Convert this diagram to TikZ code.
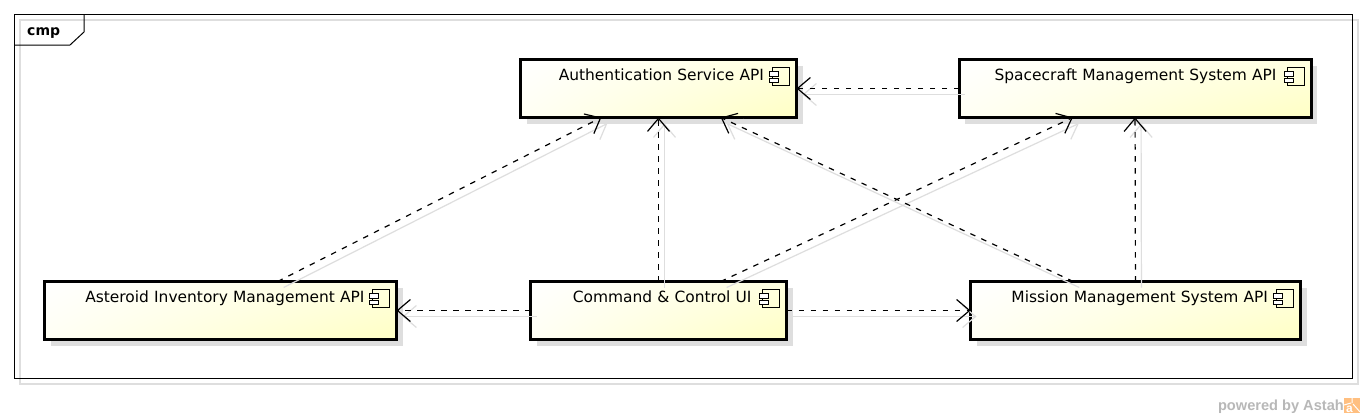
\documentclass[tikz,border=0pt]{standalone}
\usepackage{fontspec}
\setmainfont{DejaVu Sans}
\newfontfamily\poweredfont{Liberation Sans}
\usetikzlibrary{arrows.meta,shadows,shadings}
\definecolor{shadowgray}{HTML}{DEDEDE}
\definecolor{compyellow}{HTML}{FFFFC4}
\definecolor{compmidur}{HTML}{FFFFE0}
\definecolor{compmidll}{HTML}{FFFFF4}
\tikzset{
  compbox/.style 2 args={draw=black,line width=3pt,rectangle,inner ysep=0pt,inner xsep=#2,outer sep=0pt,
    text width=#1-2*#2,align=right,text height=21pt,text depth=37pt,font=\fontsize{15.45}{18}\selectfont,
    shading=bilinear interpolation,upper left=white,upper right=compmidur,lower left=compmidll,lower right=compyellow,
    drop shadow={shadow xshift=6pt,shadow yshift=-6pt,fill=shadowgray,opacity=1}},
  dep/.style={dashed,dash pattern=on 5.5pt off 6.5pt,line width=1.2pt,
    -{Straight Barb[length=13pt,width=22pt,line width=1.2pt]}},
  depshadow/.style={shadowgray,line width=1.2pt,transform canvas={xshift=6pt,yshift=-6pt},
    -{Straight Barb[length=13pt,width=22pt,line width=1.2pt]}},
  iconpart/.style={draw=black,line width=1pt,fill=none},
  pinpart/.style={draw=black,line width=1pt,fill=white},
}
\begin{document}
\begin{tikzpicture}[x=1pt,y=-1pt]
\useasboundingbox (0,0) rectangle (1364,418);
\fill[white] (0,0) rectangle (1364,418);
% frame
\draw[shadowgray,line width=1.4pt] (20,20) rectangle (1358,384);
\draw[black,line width=1pt] (14,14) rectangle (1352,378);
\draw[black,line width=1pt] (14,45) -- (70,45) -- (84,32) -- (84,14);
\node[font=\bfseries\fontsize{14}{16}\selectfont,anchor=base west,inner sep=0pt] (cmp) at (27,35) {cmp};
% components
\node[compbox={276pt}{32.5pt}] (auth) at (658.5,88.5) {Authentication Service API};
\node[compbox={352pt}{34.5pt}] (space) at (1135,88.5) {Spacecraft Management System API};
\node[compbox={352pt}{32pt}] (aster) at (220.5,310.5) {Asteroid Inventory Management API};
\node[compbox={256pt}{35pt}] (cmd) at (658.5,310.5) {Command \& Control UI};
\node[compbox={330pt}{32.5pt}] (miss) at (1135.5,310.5) {Mission Management System API};
\foreach \n in {auth,space,aster,cmd,miss}{
  \begin{scope}[shift={(\n.north east)}]
    \draw[iconpart] (-24,8) rectangle (-7,26);
    \draw[pinpart] (-27,12) rectangle (-18,16.5);
    \draw[pinpart] (-27,18.5) rectangle (-18,23);
  \end{scope}
}
% shadows of connectors
\foreach \a/\b in {space/auth,aster/auth,cmd/auth,miss/auth,cmd/space,miss/space,cmd/aster,cmd/miss}{
  \draw[depshadow] (\a) -- (\b);
}
% connectors
\foreach \a/\b in {space/auth,aster/auth,cmd/auth,miss/auth,cmd/space,miss/space,cmd/aster,cmd/miss}{
  \draw[dep] (\a) -- (\b);
}
% footer
\node[anchor=base east,inner sep=0pt,text=black!28,font=\poweredfont\bfseries\fontsize{14.6}{16}\selectfont] (powered) at (1344,410) {powered by Astah};
\fill[orange!50] (1344,398) rectangle (1360,413);
\draw[white,line width=1pt] (1352,398) -- (1352,403) (1344,405) -- (1351,403) (1353,404) -- (1360,412);
\node[anchor=base,inner sep=0pt,text=white,font=\poweredfont\bfseries\fontsize{12}{14}\selectfont] (logo) at (1349.5,412) {a};
\end{tikzpicture}
\end{document}
